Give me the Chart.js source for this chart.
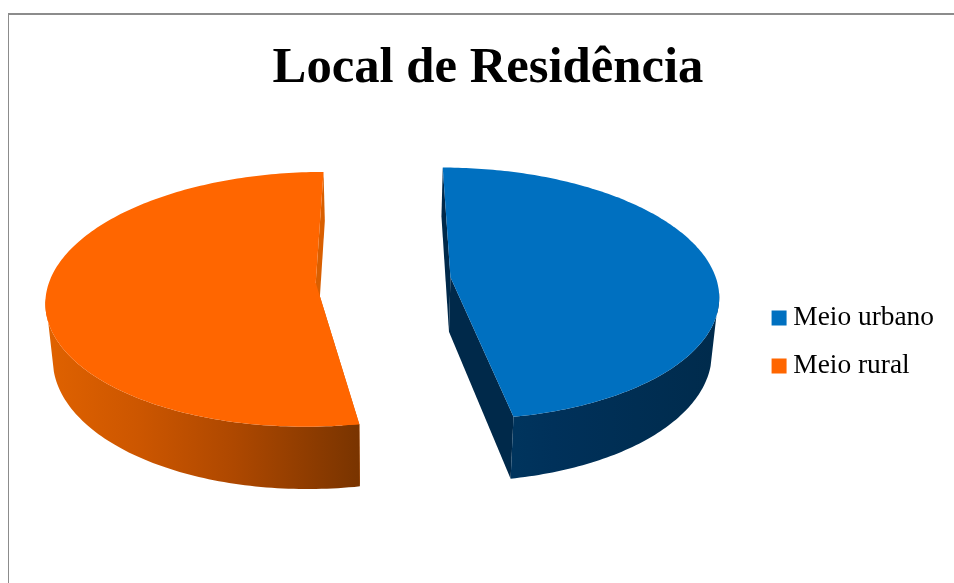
<!DOCTYPE html>
<html>
<head>
<meta charset="utf-8">
<style>
html,body{margin:0;padding:0;background:#fff;width:954px;height:583px;overflow:hidden}
#c{position:absolute;left:0;top:0}
#frame{position:absolute;left:8px;top:13px;width:946px;height:570px;box-sizing:border-box;border-top:2px solid #8c8c8c;border-left:1px solid #8c8c8c;pointer-events:none}
</style>
<script src="https://cdn.jsdelivr.net/npm/chart.js@4"></script>
</head>
<body>
<canvas id="c" width="954" height="583"></canvas>
<div id="frame"></div>
<script>
const chartTitle = 'Local de Residência';
const categories = ['Meio urbano', 'Meio rural'];
const shares = [47.2, 52.8];
const topColors = ['#0070C0', '#FF6600'];
const cutWallColors = ['#00294A', '#D95F00'];
const rimWallStops = [
  [[0, '#003A63'], [0.4, '#00315A'], [1, '#002B4C']],
  [[0, '#E06200'], [0.3, '#CC5600'], [0.6, '#AE4800'], [1, '#793400']]
];

// Camera that tilts the library's pie plane into a shallow perspective view.
const camera = {
  R: 266, ry: 124.5, tilt: 0.13,
  shiftX: -11.7, shiftY: -62,
  depth: 54.7, lowX: 0.978, lowY: 1.052
};

function project(arc, a, b, low) {
  const w = 1 - camera.tilt * b;
  let X = camera.R * a / w, Y = camera.ry * b / w;
  if (low) { X *= camera.lowX; Y = Y * camera.lowY + camera.depth; }
  return [arc.x + camera.shiftX + X, arc.y + camera.shiftY + Y];
}

function polygon(ctx, pts, fill) {
  ctx.beginPath();
  pts.forEach((p, i) => i ? ctx.lineTo(p[0], p[1]) : ctx.moveTo(p[0], p[1]));
  ctx.closePath();
  ctx.fillStyle = fill;
  ctx.fill();
}

const pie3d = {
  id: 'pie3d',
  beforeDatasetsDraw(chart) {
    const ctx = chart.ctx;
    const arcs = chart.getDatasetMeta(0).data;
    arcs.forEach((arc, idx) => {
      const r = arc.outerRadius;
      const mid = (arc.startAngle + arc.endAngle) / 2;
      const ox = Math.cos(mid) * arc.options.offset / r;
      const oy = Math.sin(mid) * arc.options.offset / r;
      const angles = [];
      for (let i = 0; i <= 180; i++) {
        angles.push(arc.startAngle + (arc.endAngle - arc.startAngle) * i / 180);
      }
      const at = (t, low) => project(arc, ox + Math.cos(t), oy + Math.sin(t), low);
      const top = angles.map(t => at(t, false));
      const first = angles[0], last = angles[180];
      const apexTop = project(arc, ox, oy, false), apexLow = project(arc, ox, oy, true);
      // cut walls
      polygon(ctx, [at(first, false), apexTop, apexLow, at(first, true)], cutWallColors[idx]);
      polygon(ctx, [at(last, false), apexTop, apexLow, at(last, true)], cutWallColors[idx]);
      // outer wall: joined along the silhouette from the widest top point to the lower rim
      const frontTop = angles.filter(t => Math.sin(t) >= 0.12);
      const frontLow = angles.filter(t => Math.sin(t) >= 0.25);
      const xs = top.map(p => p[0]);
      const minX = Math.min(...xs), maxX = Math.max(...xs);
      const g = ctx.createLinearGradient(minX, 0, maxX, 0);
      rimWallStops[idx].forEach(s => g.addColorStop(s[0], s[1]));
      polygon(ctx, frontTop.map(t => at(t, false)).concat(frontLow.slice().reverse().map(t => at(t, true))), g);
      // top face
      polygon(ctx, [apexTop].concat(top), arc.options.backgroundColor);
    });
    return false;
  }
};

new Chart(document.getElementById('c'), {
  type: 'pie',
  data: {
    labels: categories,
    datasets: [{
      data: shares,
      backgroundColor: topColors,
      borderColor: topColors,
      borderWidth: 14,
      offset: 52.8
    }]
  },
  options: {
    responsive: false,
    animation: false,
    layout: { padding: { left: 32, right: 10, top: 0, bottom: 0 } },
    plugins: {
      tooltip: { enabled: false },
      title: {
        display: true,
        text: chartTitle,
        color: '#000',
        font: { family: '"Liberation Serif"', size: 50.7, weight: 'bold' },
        padding: { top: 38, bottom: 2 }
      },
      legend: {
        position: 'right',
        fullSize: false,
        labels: {
          color: '#000',
          font: { family: '"Liberation Serif"', size: 27.4 },
          boxWidth: 1,
          boxHeight: 1,
          padding: 20.6
        }
      }
    }
  },
  plugins: [pie3d]
});
</script>
</body>
</html>
